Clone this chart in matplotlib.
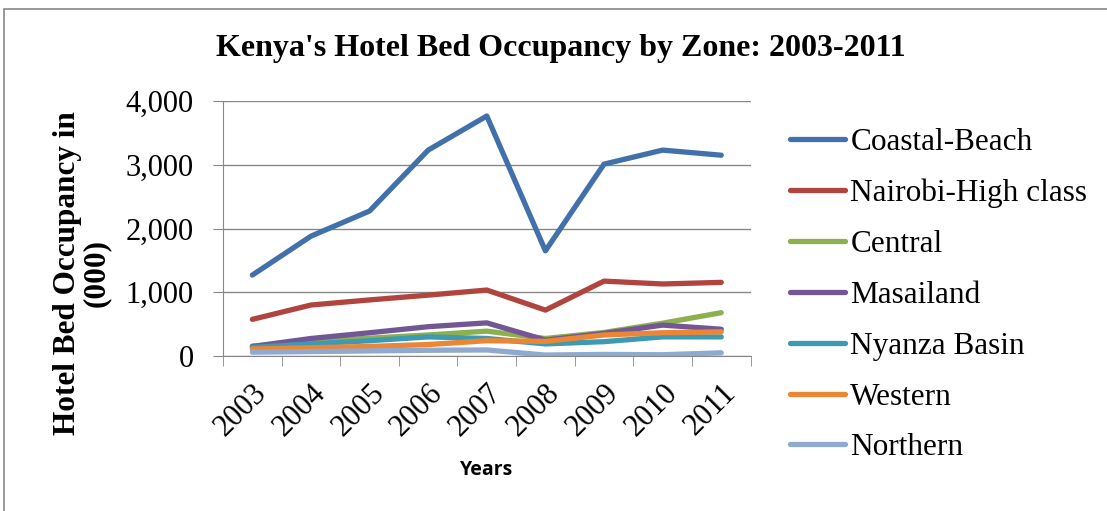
import numpy as np
from matplotlib import pyplot as plt
from matplotlib.patches import Rectangle

# data (thousands)
years = ['2003', '2004', '2005', '2006', '2007', '2008', '2009', '2010', '2011']
zones = ['Coastal-Beach', 'Nairobi-High class', 'Central', 'Masailand',
         'Nyanza Basin', 'Western', 'Northern']
coastal = [1270, 1880, 2275, 3230, 3765, 1650, 3010, 3230, 3150]
nairobi = [575, 800, 880, 955, 1035, 720, 1175, 1130, 1155]
central = [155, 225, 280, 330, 390, 275, 370, 515, 680]
masailand = [150, 275, 365, 460, 520, 250, 355, 485, 420]
nyanza = [135, 190, 240, 300, 275, 190, 225, 300, 300]
western = [110, 130, 150, 180, 240, 230, 330, 365, 380]
northern = [60, 70, 80, 90, 95, 15, 25, 20, 50]
colors = ['#4170AA', '#B0443F', '#8DB04F', '#735794', '#3C9AB4', '#EB8634', '#8FA9D0']

serif = 'Liberation Serif'

fig = plt.figure(figsize=(11.07, 5.11), dpi=100)
fig.patches.append(Rectangle((4 / 1107, -0.1), 1.2, (511 - 9) / 511 + 0.1,
                             transform=fig.transFigure, fill=False,
                             edgecolor='#888888', linewidth=1.2))
ax = fig.add_axes([0.2015, 0.3033, 0.4765, 0.499])

x = np.arange(len(years))
series = [coastal, nairobi, central, masailand, nyanza, western, northern]
for vals, name, c in zip(series, zones, colors):
    ax.plot(x, vals, color=c, linewidth=3.8, label=name, solid_capstyle='round')

ax.set_xlim(-0.5, 8.5)
ax.set_ylim(0, 4000)
ax.set_yticks([0, 1000, 2000, 3000, 4000])
ax.set_yticklabels(['0', '1,000', '2,000', '3,000', '4,000'], family=serif, fontsize=22)
ax.set_xticks(x)
ax.set_xticklabels(years, family=serif, fontsize=22, rotation=45,
                   ha='right', rotation_mode='anchor')
ax.set_xticks(np.arange(-0.5, 9, 1), minor=True)
ax.tick_params(axis='x', which='major', length=0, pad=16)
ax.tick_params(axis='x', which='minor', length=7, color='#888888')
ax.tick_params(axis='y', length=7, color='#888888', pad=14)
ax.grid(axis='y', color='#888888', linewidth=1)
ax.set_axisbelow(True)
for s in ['top', 'right']:
    ax.spines[s].set_visible(False)
for s in ['left', 'bottom']:
    ax.spines[s].set_color('#888888')

fig.text(0.074, 0.466, "Hotel Bed Occupancy in\n(000)", family=serif, fontsize=22.5,
         fontweight='bold', rotation=90, ha='center', va='center',
         multialignment='center', linespacing=0.95)
fig.text(0.44, 0.08, 'Years', family='Open Sans', fontsize=14,
         fontweight='bold', ha='center', va='center')
fig.text(0.507, 0.905, "Kenya's Hotel Bed Occupancy by Zone: 2003-2011",
         family=serif, fontsize=23, fontweight='bold', ha='center', va='center')

ax.legend(loc='center left', bbox_to_anchor=(790 / 1107, 1 - 295 / 511),
          bbox_transform=fig.transFigure, borderpad=0, borderaxespad=0,
          frameon=False, prop={'family': serif, 'size': 22.5}, handlelength=1.75,
          handletextpad=0.18, labelspacing=0.7)

plt.savefig('out.png', dpi=100)
